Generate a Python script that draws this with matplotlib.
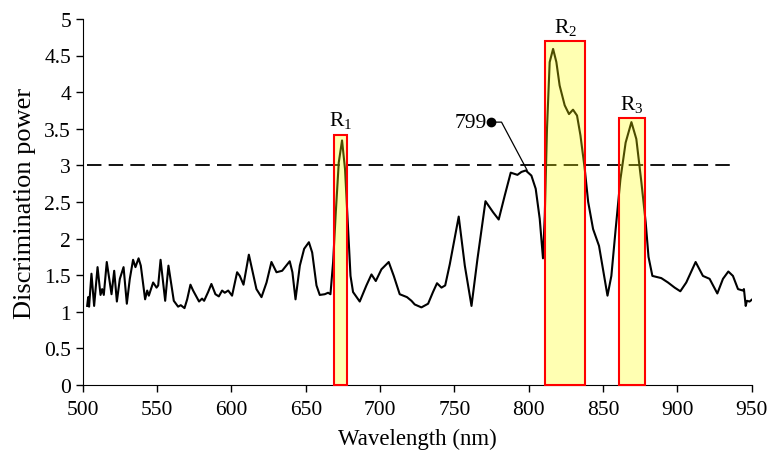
import matplotlib
matplotlib.use("Agg")
import matplotlib.pyplot as plt
from matplotlib.patches import Rectangle
from matplotlib.ticker import MultipleLocator, FuncFormatter

plt.rcParams['font.family'] = ['Liberation Serif', 'DejaVu Serif']
plt.rcParams['mathtext.fontset'] = 'custom'
plt.rcParams['mathtext.rm'] = 'Liberation Serif'
plt.rcParams['mathtext.it'] = 'Liberation Serif:italic'

# discrimination power spectrum
wavelength = [502.9, 503.6, 504.2, 505.8, 507.6, 509.9, 511.9, 513.0, 514.1, 516.1,
              519.3, 521.1, 522.9, 524.9, 527.4, 529.6, 531.6, 533.8, 535.4, 537.5,
              539.0, 541.9, 543.3, 544.4, 547.3, 549.6, 550.7, 552.3, 555.4, 557.6,
              561.2, 564.1, 565.9, 568.4, 570.2, 572.4, 574.2, 578.2, 580.2, 581.6,
              584.3, 586.5, 589.2, 591.5, 593.7, 595.5, 597.8, 600.4, 603.8, 605.6,
              608.1, 611.7, 613.9, 616.8, 620.2, 623.6, 626.9, 630.3, 634.1, 639.2,
              641.0, 643.1, 646.0, 648.9, 652.1, 654.3, 657.2, 659.4, 662.8, 665.0,
              666.6, 668.4, 670.2, 672.2, 674.4, 676.4, 678.5, 680.1, 681.8, 686.3,
              690.8, 694.2, 697.1, 700.9, 705.8, 709.2, 713.2, 718.1, 721.1, 723.3,
              727.8, 732.3, 735.6, 738.3, 741.3, 743.8, 746.9, 752.9, 757.0, 761.5,
              765.5, 770.9, 776.0, 779.8, 783.9, 787.9, 792.4, 795.1, 798.0, 801.8,
              804.7, 807.4, 809.6, 810.8, 812.3, 814.1, 816.4, 818.6, 820.8, 824.2,
              827.1, 829.8, 832.5, 834.8, 837.7, 840.0, 843.3, 847.3, 850.0, 853.0,
              855.6, 858.5, 861.7, 865.2, 869.1, 872.4, 875.8, 878.7, 880.6, 883.2,
              889.2, 893.7, 898.2, 902.0, 906.0, 912.3, 917.2, 921.7, 926.9, 930.7,
              934.3, 937.4, 940.8, 944.1, 944.8, 946.0, 946.8, 948.6, 950.4]
power = [1.08, 1.20, 1.07, 1.52, 1.08, 1.61, 1.23, 1.31, 1.23, 1.68,
         1.24, 1.56, 1.14, 1.45, 1.61, 1.11, 1.45, 1.71, 1.61, 1.73,
         1.63, 1.17, 1.29, 1.22, 1.40, 1.33, 1.36, 1.71, 1.15, 1.63,
         1.15, 1.07, 1.09, 1.05, 1.17, 1.37, 1.29, 1.14, 1.18, 1.15,
         1.27, 1.38, 1.24, 1.21, 1.29, 1.26, 1.29, 1.22, 1.54, 1.49,
         1.37, 1.78, 1.58, 1.31, 1.20, 1.40, 1.68, 1.54, 1.56, 1.69,
         1.54, 1.17, 1.63, 1.86, 1.95, 1.81, 1.36, 1.23, 1.24, 1.26,
         1.24, 1.68, 2.36, 3.04, 3.34, 2.95, 2.13, 1.49, 1.27, 1.14,
         1.36, 1.51, 1.42, 1.58, 1.68, 1.49, 1.24, 1.20, 1.15, 1.10,
         1.06, 1.11, 1.27, 1.39, 1.33, 1.36, 1.65, 2.30, 1.63, 1.08,
         1.72, 2.51, 2.36, 2.26, 2.59, 2.90, 2.87, 2.91, 2.93, 2.86,
         2.68, 2.27, 1.73, 2.31, 3.50, 4.41, 4.59, 4.41, 4.09, 3.82,
         3.70, 3.76, 3.68, 3.41, 2.95, 2.50, 2.13, 1.90, 1.58, 1.22,
         1.49, 2.13, 2.81, 3.31, 3.59, 3.36, 2.77, 2.22, 1.75, 1.49,
         1.46, 1.40, 1.33, 1.28, 1.40, 1.68, 1.49, 1.45, 1.25, 1.45,
         1.55, 1.49, 1.31, 1.29, 1.31, 1.08, 1.15, 1.14, 1.17]

# threshold line
threshold = 3.0
threshold_span = [503, 938]

# selected regions: label, start, end, height
region_names = ['R$_1$', 'R$_2$', 'R$_3$']
region_start = [669, 811, 861]
region_end = [678, 838, 878]
region_top = [3.42, 4.70, 3.65]

# callout for the 799 nm shoulder
callout_nm = 799
callout_val = 2.93
callout_label = '799'
callout_anchor = (774.5, 3.59)

fig = plt.figure(figsize=(7.67, 4.52), dpi=100)
ax = fig.add_axes([0.108, 0.146, 0.872, 0.81])

ax.plot(wavelength, power, color='black', lw=1.5, zorder=2, solid_joinstyle='round')
ax.plot(threshold_span, [threshold, threshold], color='black', lw=1.3,
        linestyle=(0, (8, 4)), zorder=2)

for name, x0, x1, top in zip(region_names, region_start, region_end, region_top):
    ax.add_patch(Rectangle((x0, 0), x1 - x0, top, facecolor=(1, 1, 0, 0.3),
                           edgecolor='red', lw=1.5, zorder=3, clip_on=False))
    ax.annotate(name, xy=((x0 + x1) / 2, top), xytext=(0, 3),
                textcoords='offset points', ha='center', va='bottom', fontsize=15.5)

# leader line from the dot down to the shoulder
ax.annotate('', xy=(callout_nm, callout_val), xytext=callout_anchor,
            arrowprops=dict(arrowstyle='-', lw=0.9, color='black', shrinkA=0, shrinkB=0,
                            connectionstyle='angle,angleA=0,angleB=118,rad=0'))
ax.plot([callout_anchor[0]], [callout_anchor[1]], 'o', color='black', ms=6, zorder=4)
ax.annotate(callout_label, xy=callout_anchor, xytext=(-3, 0), textcoords='offset points',
            ha='right', va='center', fontsize=15.5)

ax.set_xlim(500, 950)
ax.set_ylim(0, 5)
ax.xaxis.set_major_locator(MultipleLocator(50))
ax.yaxis.set_major_locator(MultipleLocator(0.5))
ax.yaxis.set_major_formatter(FuncFormatter(lambda v, p: '%g' % v))
ax.spines['top'].set_visible(False)
ax.spines['right'].set_visible(False)
ax.tick_params(direction='out', length=5, width=1, labelsize=15.5)
ax.tick_params(axis='x', pad=6)
ax.set_xlabel('Wavelength (nm)', fontsize=16.5, labelpad=6)
ax.set_ylabel('Discrimination power', fontsize=19, labelpad=6)

fig.savefig('out.png', dpi=100)
